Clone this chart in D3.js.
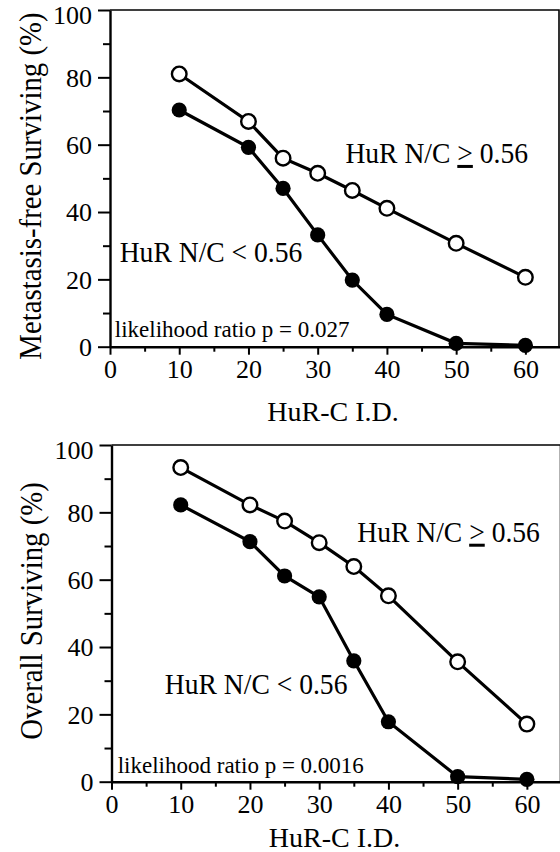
<!DOCTYPE html>
<html>
<head>
<meta charset="utf-8">
<script src="https://cdn.jsdelivr.net/npm/d3@7"></script>
<style>
  body { margin: 0; background: #fff; }
  svg { display: block; font-family: "Liberation Serif", "Times New Roman", serif; }
  svg text { font-family: "Liberation Serif", "Times New Roman", serif; }
</style>
</head>
<body>
<script>
// HuR-C I.D. values sampled on both panels
const idValues = [10, 20, 25, 30, 35, 40, 50, 60];

// metastasis-free surviving (%)
const metaHigh = [81.0, 66.9, 56.0, 51.5, 46.4, 41.1, 30.7, 20.6];
const metaLow = [70.3, 59.2, 47.0, 33.2, 19.8, 9.6, 1.0, 0.4];

// overall surviving (%)
const overallHigh = [93.3, 82.2, 77.4, 71.0, 63.9, 55.2, 35.6, 17.1];
const overallLow = [82.2, 71.3, 61.1, 54.9, 35.9, 17.8, 1.5, 0.7];

const yMajor = [0, 20, 40, 60, 80, 100];
const yMinor = [10, 30, 50, 70, 90];
const xMajor = [0, 10, 20, 30, 40, 50, 60];
const xMinor = [5, 15, 25, 35, 45, 55];

const width = 560, height = 852;
const serifFont = '"Liberation Serif", "Times New Roman", serif';

const panels = [
  {left: 110, right: 560, top: 10, bottom: 346.7,
   yTitle: 'Metastasis-free Surviving (%)', yTitleX: 41, yTitleY: 186, xTitleY: 421,
   high: metaHigh, low: metaLow, pText: 'likelihood ratio p = 0.027',
   highAt: [34, 54.6], lowAt: [1.4, 25.2], pAt: [0.7, 3.0]},
  {left: 111.5, right: 561.5, top: 445, bottom: 781.7,
   yTitle: 'Overall Surviving (%)', yTitleX: 42, yTitleY: 611, xTitleY: 847,
   high: overallHigh, low: overallLow, pText: 'likelihood ratio p = 0.0016',
   highAt: [35.5, 71.3], lowAt: [7.7, 26], pAt: [0.9, 2.6]}
];

const svg = d3.select('body').append('svg')
    .attr('width', width)
    .attr('height', height)
    .attr('font-family', serifFont);

const serif = (a) => a.attr('font-family', serifFont)
  .selectAll('text').attr('font-family', serifFont).attr('font-size', 26);

panels.forEach((p) => {
  const x = d3.scaleLinear().domain([0, 65]).range([p.left, p.right]);
  const y = d3.scaleLinear().domain([0, 100]).range([p.bottom, p.top]);
  const g = svg.append('g');

  // frame (top and right)
  g.append('path')
    .attr('d', `M${p.left},${p.top}H${p.right - 1}V${p.bottom}`)
    .attr('fill', 'none')
    .attr('stroke', '#000')
    .attr('stroke-width', 1.6);

  // y axis
  g.append('g')
    .attr('transform', `translate(${p.left},0)`)
    .call(d3.axisLeft(y).tickValues(yMinor).tickSize(7).tickFormat(''))
    .call((a) => a.select('.domain').remove());
  g.append('g')
    .attr('transform', `translate(${p.left},0)`)
    .call(d3.axisLeft(y).tickValues(yMajor).tickSize(12).tickSizeOuter(0).tickPadding(6))
    .call(serif)
    .call((a) => a.selectAll('text')
      .attr('dy', (d) => d === 100 ? '0.5em' : '0.34em'));

  // x axis
  g.append('g')
    .attr('transform', `translate(0,${p.bottom})`)
    .call(d3.axisBottom(x).tickValues(xMinor).tickSize(5).tickFormat(''))
    .call((a) => a.select('.domain').remove());
  g.append('g')
    .attr('transform', `translate(0,${p.bottom})`)
    .call(d3.axisBottom(x).tickValues(xMajor).tickSize(8).tickSizeOuter(0).tickPadding(5))
    .call(serif);

  g.selectAll('.domain').attr('stroke-width', 2.4);
  g.selectAll('.tick line').attr('stroke-width', 2);

  // titles
  g.append('text')
    .attr('transform', `translate(${p.yTitleX},${p.yTitleY}) rotate(-90) scale(0.93,1)`)
    .attr('text-anchor', 'middle')
    .attr('font-size', 31)
    .text(p.yTitle);
  g.append('text')
    .attr('x', (p.left + p.right) / 2 - 2)
    .attr('y', p.xTitleY)
    .attr('text-anchor', 'middle')
    .attr('font-size', 28)
    .text('HuR-C I.D.');

  // series
  const line = d3.line().x((d) => x(d[0])).y((d) => y(d[1]));
  [[p.high, '#fff'], [p.low, '#000']].forEach(([vals, fill]) => {
    const pts = idValues.map((v, i) => [v, vals[i]]);
    g.append('path')
      .attr('d', line(pts))
      .attr('fill', 'none')
      .attr('stroke', '#000')
      .attr('stroke-width', 3.2);
    g.selectAll(null)
      .data(pts).enter().append('circle')
      .attr('cx', (d) => x(d[0]))
      .attr('cy', (d) => y(d[1]))
      .attr('r', fill === '#fff' ? 7.3 : 7.6)
      .attr('fill', fill)
      .attr('stroke', '#000')
      .attr('stroke-width', fill === '#fff' ? 2.4 : 0);
  });

  // annotations
  const hi = g.append('text')
    .attr('transform', `translate(${x(p.highAt[0])},${y(p.highAt[1])}) scale(0.92,1)`)
    .attr('font-size', 30);
  hi.append('tspan').text('HuR N/C ');
  hi.append('tspan').style('text-decoration', 'underline').text('>');
  hi.append('tspan').text(' 0.56');

  g.append('text')
    .attr('transform', `translate(${x(p.lowAt[0])},${y(p.lowAt[1])}) scale(0.92,1)`)
    .attr('font-size', 30)
    .text('HuR N/C < 0.56');

  g.append('text')
    .attr('x', x(p.pAt[0]))
    .attr('y', y(p.pAt[1]))
    .attr('font-size', 23)
    .text(p.pText);
});
</script>
</body>
</html>
